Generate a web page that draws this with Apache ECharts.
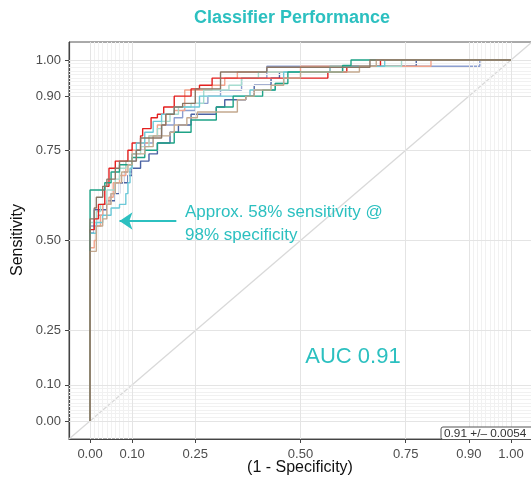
<!DOCTYPE html>
<html>
<head>
<meta charset="utf-8">
<script src="https://cdn.jsdelivr.net/npm/echarts@6/dist/echarts.min.js"></script>
<style>
  html, body { margin: 0; padding: 0; background: #fff; }
  #chart { width: 531px; height: 481px; }
</style>
</head>
<body>
<div id="chart"></div>
<script>
"use strict";

// Tick positions shared by both axes (ggplot-style custom breaks).
const TICKS = [0, 0.1, 0.25, 0.5, 0.75, 0.9, 1.0];
// Fine grid in the two "zoomed" bands.
const MINOR = [0.01, 0.02, 0.03, 0.04, 0.05, 0.06, 0.07, 0.08, 0.09,
               0.91, 0.92, 0.93, 0.94, 0.95, 0.96, 0.97, 0.98, 0.99];

// One ROC curve per CV fold: [1 - specificity, sensitivity]
const FOLD_TEAL = [[0,0],[0,0.64],[0.035,0.64],[0.035,0.66],[0.05,0.66],[0.05,0.69],[0.07,0.69],[0.07,0.71],[0.1,0.71],[0.1,0.73],[0.13,0.73],[0.13,0.75],[0.16,0.75],[0.16,0.77],[0.2,0.77],[0.2,0.8],[0.24,0.8],[0.24,0.834],[0.3,0.834],[0.3,0.87],[0.34,0.87],[0.34,0.9],[0.41,0.9],[0.41,0.917],[0.44,0.917],[0.44,0.935],[0.47,0.935],[0.47,0.967],[0.6,0.967],[0.62,0.985],[0.645,1],[1,1]];
const FOLD_NAVY = [[0,0],[0,0.52],[0.01,0.55],[0.01,0.585],[0.04,0.585],[0.04,0.61],[0.06,0.63],[0.07,0.66],[0.09,0.68],[0.1,0.7],[0.12,0.7],[0.12,0.72],[0.14,0.74],[0.16,0.77],[0.19,0.8],[0.21,0.82],[0.24,0.85],[0.3,0.87],[0.32,0.89],[0.37,0.9],[0.39,0.93],[0.43,0.95],[0.45,0.967],[0.55,0.967],[0.57,0.983],[0.767,0.983],[0.775,1],[1,1]];
const FOLD_CYAN = [[0,0],[0,0.5],[0.015,0.52],[0.03,0.55],[0.05,0.57],[0.07,0.59],[0.085,0.6],[0.09,0.63],[0.095,0.66],[0.1,0.7],[0.11,0.74],[0.13,0.77],[0.15,0.8],[0.17,0.83],[0.2,0.85],[0.2,0.87],[0.26,0.87],[0.28,0.9],[0.38,0.9],[0.38,0.917],[0.44,0.917],[0.44,0.935],[0.46,0.935],[0.48,0.967],[0.6,0.967],[0.61,0.983],[0.7,0.983],[0.72,1],[1,1]];
const FOLD_SALMON = [[0,0],[0,0.48],[0.01,0.5],[0.015,0.54],[0.025,0.57],[0.03,0.6],[0.045,0.62],[0.055,0.66],[0.07,0.68],[0.085,0.72],[0.1,0.75],[0.12,0.77],[0.14,0.79],[0.16,0.82],[0.18,0.85],[0.2,0.86],[0.225,0.86],[0.225,0.917],[0.27,0.917],[0.29,0.93],[0.32,0.95],[0.35,0.967],[0.47,0.967],[0.5,0.983],[0.81,0.983],[0.81,1],[1,1]];
const FOLD_BROWN = [[0,0],[0,0.52],[0.01,0.56],[0.015,0.59],[0.03,0.62],[0.04,0.65],[0.06,0.67],[0.07,0.7],[0.09,0.72],[0.11,0.72],[0.12,0.75],[0.13,0.784],[0.17,0.784],[0.18,0.82],[0.2,0.85],[0.22,0.87],[0.25,0.88],[0.28,0.92],[0.31,0.92],[0.31,0.967],[0.42,0.967],[0.42,0.98],[0.665,0.98],[0.68,1],[1,1]];
const FOLD_TAN = [[0,0],[0,0.47],[0.015,0.5],[0.015,0.54],[0.03,0.56],[0.04,0.6],[0.05,0.63],[0.06,0.66],[0.075,0.69],[0.09,0.71],[0.1,0.74],[0.13,0.76],[0.15,0.79],[0.19,0.8],[0.2,0.82],[0.23,0.84],[0.255,0.856],[0.35,0.856],[0.35,0.89],[0.37,0.9],[0.39,0.917],[0.43,0.93],[0.46,0.95],[0.5,0.967],[0.62,0.967],[0.64,0.983],[0.67,0.983],[0.68,1],[1,1]];
const FOLD_PURPLE = [[0,0],[0,0.5],[0.02,0.54],[0.03,0.57],[0.05,0.6],[0.06,0.63],[0.08,0.66],[0.1,0.69],[0.11,0.72],[0.13,0.75],[0.15,0.77],[0.17,0.79],[0.2,0.82],[0.22,0.84],[0.25,0.86],[0.28,0.88],[0.31,0.9],[0.36,0.917],[0.42,0.95],[0.42,0.967],[0.45,0.983],[0.926,0.983],[0.926,1],[1,1]];
const FOLD_MINT = [[0,0],[0,0.55],[0.015,0.58],[0.025,0.6],[0.04,0.64],[0.06,0.67],[0.07,0.7],[0.085,0.72],[0.1,0.74],[0.12,0.76],[0.14,0.79],[0.16,0.81],[0.17,0.83],[0.19,0.85],[0.21,0.87],[0.24,0.88],[0.27,0.917],[0.33,0.93],[0.36,0.95],[0.4,0.967],[0.55,0.967],[0.57,0.983],[0.73,0.983],[0.74,1],[1,1]];
const FOLD_RED = [[0,0],[0,0.51],[0.01,0.53],[0.02,0.56],[0.02,0.58],[0.035,0.6],[0.035,0.63],[0.045,0.65],[0.045,0.68],[0.06,0.7],[0.075,0.72],[0.09,0.72],[0.1,0.75],[0.12,0.77],[0.125,0.79],[0.145,0.81],[0.16,0.84],[0.175,0.85],[0.2,0.87],[0.22,0.9],[0.24,0.9],[0.26,0.92],[0.29,0.93],[0.31,0.95],[0.565,0.95],[0.565,0.967],[0.61,0.967],[0.625,0.983],[0.69,0.983],[0.69,1],[1,1]];

// Draw order: later folds sit on top (brown/tan end up on the 1.0 line).
// step: which way ties between consecutive points are turned into a staircase.
const FOLDS = [
  { data: FOLD_PURPLE, color: "#8d9fd0", step: "start" },
  { data: FOLD_NAVY, color: "#4a62a3", step: "end" },
  { data: FOLD_SALMON, color: "#f2a48c", step: "end" },
  { data: FOLD_MINT, color: "#a6dccf", step: "end" },
  { data: FOLD_RED, color: "#e3201f", step: "start" },
  { data: FOLD_CYAN, color: "#6cc9d8", step: "start" },
  { data: FOLD_TEAL, color: "#1ea386", step: "start" },
  { data: FOLD_TAN, color: "#c4a98f", step: "end" },
  { data: FOLD_BROWN, color: "#8b7664", step: "start" },
];

const AXIS_RANGE = [-0.05, 1.05];
const DIAGONAL = [[-0.05, -0.05], [1.05, 1.05]];
// Arrow pointing at the 58% sensitivity operating point.
const ARROW_FROM = [0.205, 0.554];
const ARROW_TO = [0.07, 0.554];

const ACCENT = "#2cc0c0";
const FONT = "'Liberation Sans', Arial, sans-serif";

const chart = echarts.init(document.getElementById("chart"), null, { renderer: "canvas" });

const gridLines = [];
MINOR.forEach((v) => {
  gridLines.push({ xAxis: v, lineStyle: { color: "#f1f1f1", width: 1, type: "solid" } });
  gridLines.push({ yAxis: v, lineStyle: { color: "#f1f1f1", width: 1, type: "solid" } });
});
TICKS.forEach((v) => {
  gridLines.push({ xAxis: v, lineStyle: { color: "#e4e4e4", width: 1, type: "solid" } });
  gridLines.push({ yAxis: v, lineStyle: { color: "#e4e4e4", width: 1, type: "solid" } });
});

const axisCommon = {
  type: "value",
  min: AXIS_RANGE[0],
  max: AXIS_RANGE[1],
  splitLine: { show: false },
  axisLine: { show: true, onZero: false, lineStyle: { color: "#444", width: 1.2 } },
  axisTick: { show: true, customValues: TICKS, length: 4, lineStyle: { color: "#444" } },
  axisLabel: {
    customValues: TICKS,
    formatter: (v) => v.toFixed(2),
    color: "#4d4d4d",
    fontSize: 13,
    fontFamily: FONT,
  },
};

const series = [
  {
    type: "line",
    data: DIAGONAL,
    symbol: "none",
    silent: true,
    z: 1,
    lineStyle: { color: "#d9d9d9", width: 1.3 },
    markLine: {
      silent: true,
      symbol: ["none", "none"],
      label: { show: false },
      animation: false,
      lineStyle: { type: "solid" },
      data: gridLines,
    },
  },
];

FOLDS.forEach((f, i) => {
  series.push({
    type: "line",
    data: f.data,
    step: f.step,
    symbol: "none",
    z: 3 + i,
    lineStyle: { color: f.color, width: 1.4 },
  });
});

// Annotation arrow, placed in data space.
series.push({
  type: "line",
  data: [],
  z: 20,
  markLine: {
    silent: true,
    symbol: ["none", "arrow"],
    symbolSize: 13,
    label: { show: false },
    lineStyle: { color: ACCENT, width: 2.2, type: "solid" },
    data: [[{ coord: ARROW_FROM }, { coord: ARROW_TO }]],
  },
});

chart.setOption({
  animation: false,
  grid: {
    left: 69,
    top: 42,
    width: 463,
    height: 397,
    show: true,
    borderColor: "#555",
    borderWidth: 1,
    outerBoundsMode: "none",
  },
  xAxis: Object.assign({}, axisCommon, { axisLabel: Object.assign({}, axisCommon.axisLabel, { margin: 9 }) }),
  yAxis: Object.assign({}, axisCommon, { axisLabel: Object.assign({}, axisCommon.axisLabel, { margin: 8 }) }),
  series: series,
  graphic: [
    {
      type: "text", x: 292, y: 18,
      style: { text: "Classifier Performance", fill: ACCENT, font: "bold 18px " + FONT, align: "center", verticalAlign: "middle" },
    },
    {
      type: "text", x: 300, y: 468,
      style: { text: "(1 - Specificity)", fill: "#111", font: "16px " + FONT, align: "center", verticalAlign: "middle" },
    },
    {
      type: "text", x: 18, y: 240, rotation: Math.PI / 2,
      style: { text: "Sensitivity", fill: "#111", font: "16px " + FONT, align: "center", verticalAlign: "middle" },
    },
    {
      type: "text", x: 185, y: 201, z: 30,
      style: {
        text: "Approx. 58% sensitivity @\n98% specificity",
        fill: ACCENT, font: "17px " + FONT, lineHeight: 23,
      },
    },
    {
      type: "text", x: 353, y: 357, z: 30,
      style: { text: "AUC 0.91", fill: ACCENT, font: "22px " + FONT, align: "center", verticalAlign: "middle" },
    },
    {
      type: "rect", z: 30,
      shape: { x: 441, y: 427, width: 100, height: 12.5, r: 2 },
      style: { fill: "#fff", stroke: "#555", lineWidth: 1 },
    },
    {
      type: "text", x: 444, y: 433.5, z: 31,
      style: { text: "0.91 +/\u2013 0.0054", fill: "#333", font: "11.8px " + FONT, verticalAlign: "middle" },
    },
  ],
});
</script>
</body>
</html>
